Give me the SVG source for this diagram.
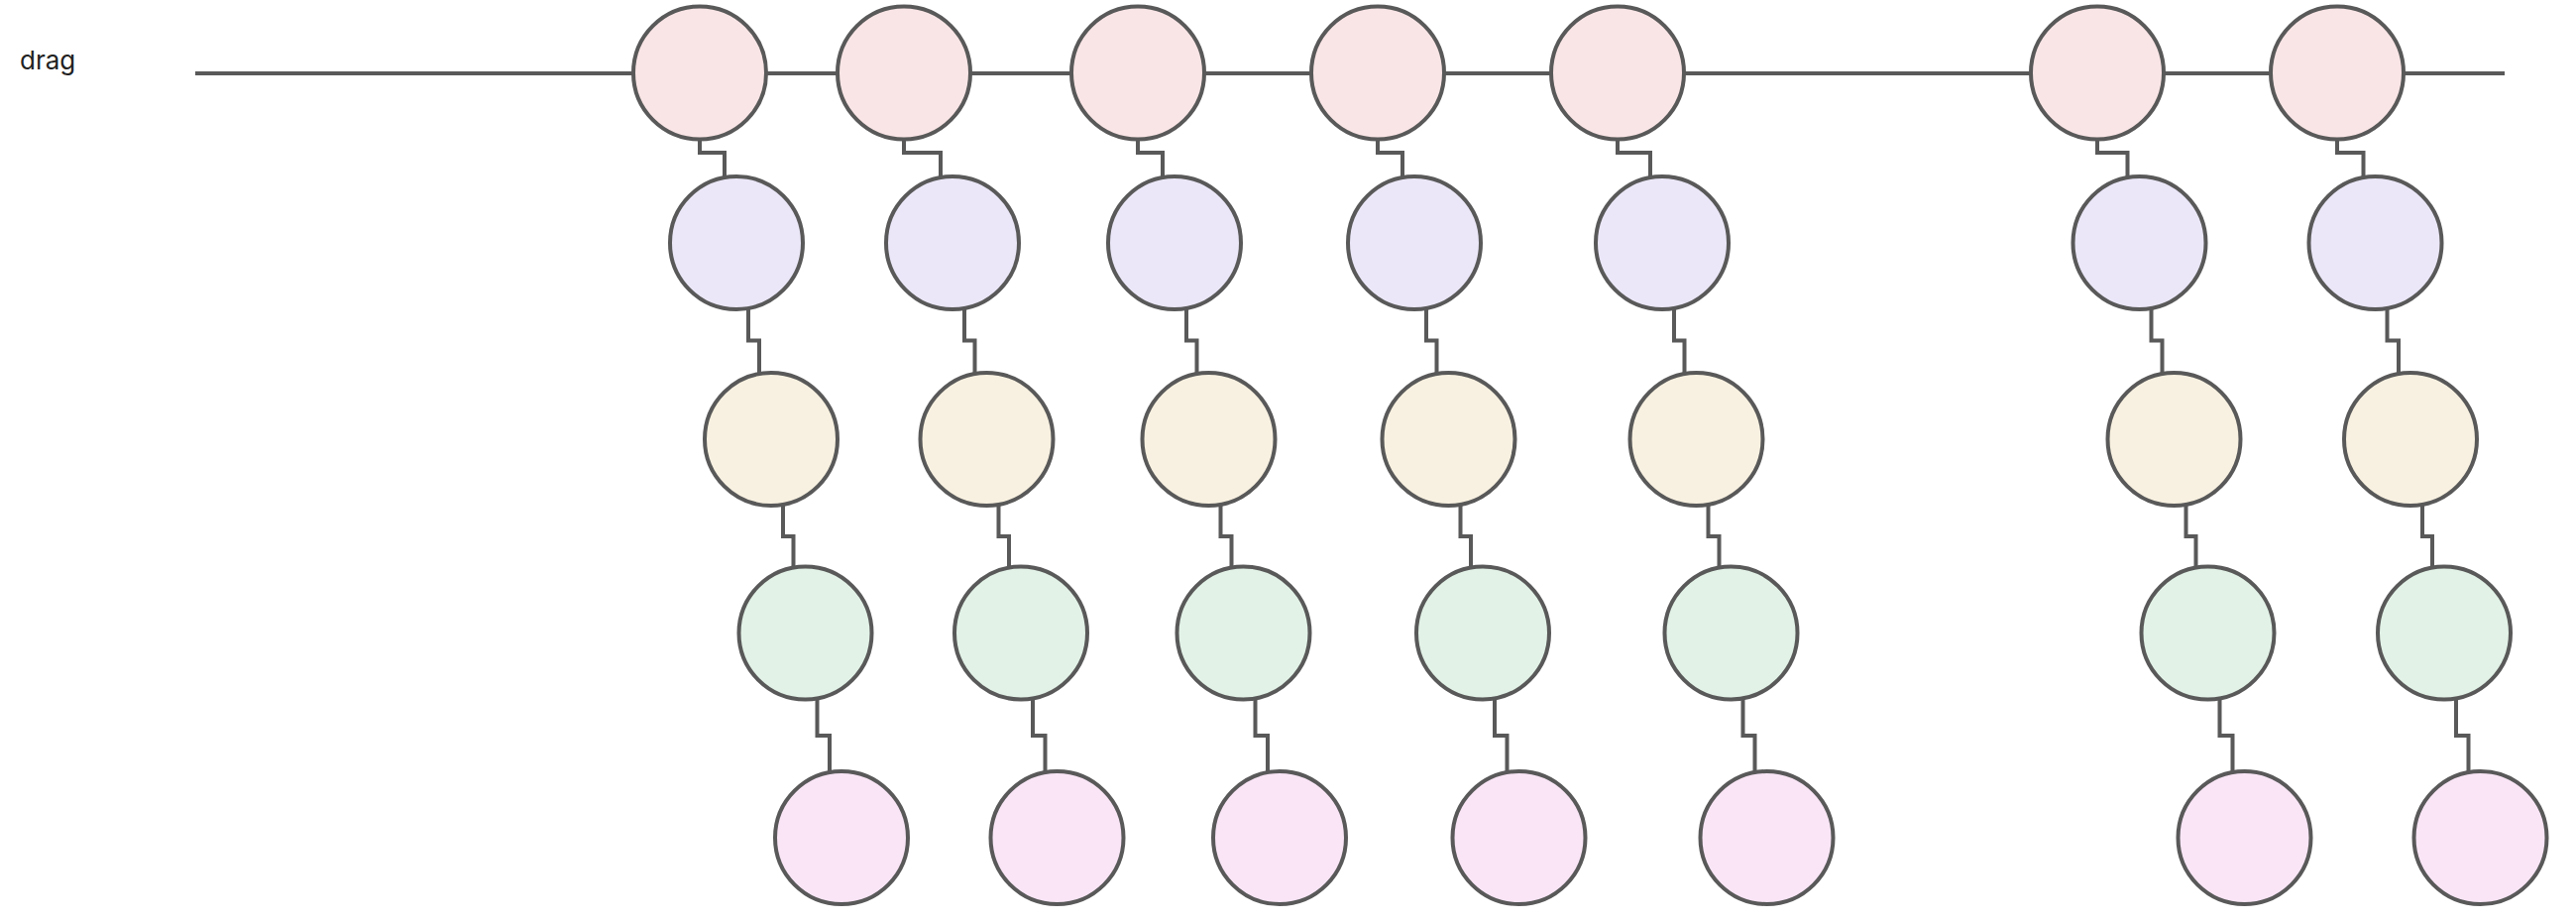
<svg xmlns="http://www.w3.org/2000/svg" width="2599" height="930" viewBox="0 0 2599 930">
<style>
.n{stroke:#595959;stroke-width:4}
.l0{fill:#fae5e6}.l1{fill:#ebe7f8}.l2{fill:#f8f1e1}.l3{fill:#e2f2e7}.l4{fill:#f9e5f6}
.c{fill:none;stroke:#595959;stroke-width:4}
.t{font-family:Inter,"Liberation Sans",sans-serif;font-size:26px;fill:#222}
</style>
<rect width="2599" height="930" fill="#fff"/>
<text class="t" x="20" y="70">drag</text>
<g id="connectors">
<path class="c" d="M197 74H2527"/>
<path class="c" d="M706 130V154H731V190"/>
<path class="c" d="M755 300V343.5H766V390"/>
<path class="c" d="M790 500V541H800.5V585"/>
<path class="c" d="M824.5 695V742H837V790"/>
<path class="c" d="M912 130V154H949V190"/>
<path class="c" d="M973 300V343.5H983.5V390"/>
<path class="c" d="M1007.5 500V541H1018V585"/>
<path class="c" d="M1042 695V742H1054.5V790"/>
<path class="c" d="M1148 130V154H1173V190"/>
<path class="c" d="M1197 300V343.5H1207.5V390"/>
<path class="c" d="M1231.5 500V541H1242.5V585"/>
<path class="c" d="M1266.5 695V742H1279V790"/>
<path class="c" d="M1390 130V154H1415V190"/>
<path class="c" d="M1439 300V343.5H1449.5V390"/>
<path class="c" d="M1473.5 500V541H1484V585"/>
<path class="c" d="M1508 695V742H1520.5V790"/>
<path class="c" d="M1632 130V154H1665V190"/>
<path class="c" d="M1689 300V343.5H1699.5V390"/>
<path class="c" d="M1723.5 500V541H1734.5V585"/>
<path class="c" d="M1758.5 695V742H1770.5V790"/>
<path class="c" d="M2116 130V154H2146.5V190"/>
<path class="c" d="M2170.5 300V343.5H2181.5V390"/>
<path class="c" d="M2205.5 500V541H2215.5V585"/>
<path class="c" d="M2239.5 695V742H2252.5V790"/>
<path class="c" d="M2358 130V154H2384.5V190"/>
<path class="c" d="M2408.5 300V343.5H2420V390"/>
<path class="c" d="M2444 500V541H2454V585"/>
<path class="c" d="M2478 695V742H2490.5V790"/>
</g>
<g id="c1a"><circle class="n l0" cx="706" cy="73.5" r="67"/></g>
<g id="c1b"><circle class="n l1" cx="743" cy="245" r="67"/></g>
<g id="c1c"><circle class="n l2" cx="778" cy="443" r="67"/></g>
<g id="c1d"><circle class="n l3" cx="812.5" cy="638.5" r="67"/></g>
<g id="c1e"><circle class="n l4" cx="849" cy="845" r="67"/></g>
<g id="c2a"><circle class="n l0" cx="912" cy="73.5" r="67"/></g>
<g id="c2b"><circle class="n l1" cx="961" cy="245" r="67"/></g>
<g id="c2c"><circle class="n l2" cx="995.5" cy="443" r="67"/></g>
<g id="c2d"><circle class="n l3" cx="1030" cy="638.5" r="67"/></g>
<g id="c2e"><circle class="n l4" cx="1066.5" cy="845" r="67"/></g>
<g id="c3a"><circle class="n l0" cx="1148" cy="73.5" r="67"/></g>
<g id="c3b"><circle class="n l1" cx="1185" cy="245" r="67"/></g>
<g id="c3c"><circle class="n l2" cx="1219.5" cy="443" r="67"/></g>
<g id="c3d"><circle class="n l3" cx="1254.5" cy="638.5" r="67"/></g>
<g id="c3e"><circle class="n l4" cx="1291" cy="845" r="67"/></g>
<g id="c4a"><circle class="n l0" cx="1390" cy="73.5" r="67"/></g>
<g id="c4b"><circle class="n l1" cx="1427" cy="245" r="67"/></g>
<g id="c4c"><circle class="n l2" cx="1461.5" cy="443" r="67"/></g>
<g id="c4d"><circle class="n l3" cx="1496" cy="638.5" r="67"/></g>
<g id="c4e"><circle class="n l4" cx="1532.5" cy="845" r="67"/></g>
<g id="c5a"><circle class="n l0" cx="1632" cy="73.5" r="67"/></g>
<g id="c5b"><circle class="n l1" cx="1677" cy="245" r="67"/></g>
<g id="c5c"><circle class="n l2" cx="1711.5" cy="443" r="67"/></g>
<g id="c5d"><circle class="n l3" cx="1746.5" cy="638.5" r="67"/></g>
<g id="c5e"><circle class="n l4" cx="1782.5" cy="845" r="67"/></g>
<g id="c6a"><circle class="n l0" cx="2116" cy="73.5" r="67"/></g>
<g id="c6b"><circle class="n l1" cx="2158.5" cy="245" r="67"/></g>
<g id="c6c"><circle class="n l2" cx="2193.5" cy="443" r="67"/></g>
<g id="c6d"><circle class="n l3" cx="2227.5" cy="638.5" r="67"/></g>
<g id="c6e"><circle class="n l4" cx="2264.5" cy="845" r="67"/></g>
<g id="c7a"><circle class="n l0" cx="2358" cy="73.5" r="67"/></g>
<g id="c7b"><circle class="n l1" cx="2396.5" cy="245" r="67"/></g>
<g id="c7c"><circle class="n l2" cx="2432" cy="443" r="67"/></g>
<g id="c7d"><circle class="n l3" cx="2466" cy="638.5" r="67"/></g>
<g id="c7e"><circle class="n l4" cx="2502.5" cy="845" r="67"/></g>
</svg>
